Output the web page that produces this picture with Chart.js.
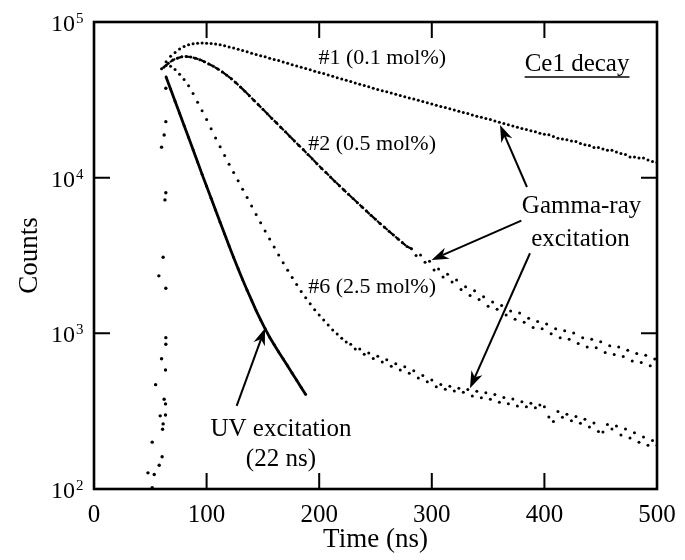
<!DOCTYPE html>
<html>
<head>
<meta charset="utf-8">
<script src="https://cdn.jsdelivr.net/npm/chart.js@4.4.1/dist/chart.umd.min.js"></script>
<style>
  html, body { margin: 0; padding: 0; background: #fff; }
  canvas { display: block; }
</style>
</head>
<body>
<canvas id="decay" width="685" height="560"></canvas>
<script>
// tick values
var xTicks = [0, 100, 200, 300, 400, 500];
var yTicks = [100, 1000, 10000, 100000];

// rising edge (shared by all curves)
var tRise = [47.9, 51.7, 51.7, 53.5, 54.7, 57.6, 57.9, 58.8, 60, 60, 60.5, 60.9, 61.4, 61.4, 62.3, 62.3, 63, 63.5, 63.5, 63.5, 63.8, 63.8, 63.8, 63.8, 63.8, 63.8];
var cRise = [127, 102, 200, 124, 468, 2340, 142, 295, 687, 15700, 161, 242, 262, 3080, 377, 18800, 7200, 299, 352, 582, 850, 938, 1950, 8000, 22900, 37500];

// UV excitation (22 ns)
var tUV = [64, 68, 72, 76, 80, 84, 88, 92, 96, 100, 104, 108, 112, 116, 120, 124, 128, 132, 136, 140, 144, 148, 152, 156, 160, 164, 168, 172, 176, 180, 184, 188];
var cUV = [44400, 37100, 31000, 25900, 21600, 18100, 15100, 12600, 10500, 8810, 7380, 6180, 5180, 4340, 3640, 3070, 2600, 2210, 1890, 1630, 1400, 1220, 1070, 944, 845, 760, 684, 617, 555, 499, 449, 404];

// #1 (0.1 mol%)
var t1 = [60, 64, 68, 72, 76, 80, 84, 88, 92, 96, 100, 104, 108, 112, 116, 120, 124, 128, 132, 136, 140, 144, 148, 152, 156, 160, 164, 168, 172, 176, 180, 184, 188, 192, 196, 200, 204, 208, 212, 216, 220, 224, 228, 232, 236, 240, 244, 248, 252, 256, 260, 264, 268, 272, 276, 280, 284, 288, 292, 296, 300, 304, 308, 312, 316, 320, 324, 328, 332, 336, 340, 344, 348, 352, 356, 360, 364, 368, 372, 376, 380, 384, 388, 392, 396, 400, 404, 408, 412, 416, 420, 424, 428, 432, 436, 440, 444, 448, 452, 456, 460, 464, 468, 472, 476, 480, 484, 488, 492, 496, 500];
var c1 = [50100, 55600, 60300, 63800, 67000, 69500, 71300, 72400, 73100, 73300, 73100, 72800, 72100, 71300, 70300, 69200, 68100, 66800, 65600, 64400, 63100, 61900, 60800, 59700, 58600, 57500, 56500, 55300, 54300, 53200, 52200, 51300, 50200, 49300, 48300, 47400, 46600, 45600, 44800, 43900, 43100, 42300, 41400, 40600, 39800, 39100, 38400, 37600, 36900, 36200, 35600, 35000, 34400, 33700, 33100, 32500, 32000, 31400, 30800, 30300, 29700, 29200, 28700, 28200, 27700, 27200, 26700, 26200, 25800, 25300, 24800, 24400, 24000, 23600, 23100, 22700, 22300, 21900, 21500, 21100, 20700, 20400, 20000, 19700, 19300, 19000, 18900, 18400, 17900, 17700, 17500, 17200, 17100, 16600, 16300, 16100, 15600, 15600, 15300, 15000, 15000, 14600, 14300, 14100, 13600, 13600, 13400, 13400, 13000, 12700, 12500];

// #2 (0.5 mol%)
var t2 = [62, 66, 70, 74, 78, 82, 86, 90, 94, 98, 102, 106, 110, 114, 118, 122, 126, 130, 134, 138, 142, 146, 150, 154, 158, 162, 166, 170, 174, 178, 182, 186, 190, 194, 198, 202, 206, 210, 214, 218, 222, 226, 230, 234, 238, 242, 246, 250, 254, 258, 262, 266, 270, 274, 278, 282, 286, 290, 294, 298, 302, 306, 310, 314, 318, 322, 326, 330, 334, 338, 342, 346, 350, 354, 358, 362, 366, 370, 374, 378, 382, 386, 390, 394, 398, 402, 406, 410, 414, 418, 422, 426, 430, 434, 438, 442, 446, 450, 454, 458, 462, 466, 470, 474, 478, 482, 486, 490, 494, 498];
var c2 = [51300, 54300, 56900, 58600, 59700, 60000, 59600, 58600, 57300, 55600, 53800, 51900, 49900, 47800, 45500, 43200, 40700, 38300, 35900, 33600, 31400, 29400, 27500, 25700, 24000, 22500, 21000, 19700, 18400, 17200, 16100, 15100, 14100, 13200, 12300, 11500, 10800, 10100, 9460, 8870, 8320, 7820, 7350, 6900, 6490, 6100, 5730, 5400, 5080, 4800, 4530, 4280, 4040, 3820, 3610, 3500, 3160, 3180, 2860, 2900, 2550, 2590, 2300, 2400, 2140, 2200, 1910, 1990, 1750, 1880, 1650, 1720, 1490, 1590, 1430, 1510, 1310, 1390, 1230, 1350, 1180, 1250, 1090, 1190, 1070, 1150, 993, 1070, 938, 1040, 916, 1005, 859, 938, 818, 916, 807, 883, 753, 832, 731, 817, 710, 780, 664, 743, 650, 724, 619, 684];

// #6 (2.5 mol%)
var t6 = [64, 68, 72, 76, 80, 84, 88, 92, 96, 100, 104, 108, 112, 116, 120, 124, 128, 132, 136, 140, 144, 148, 152, 156, 160, 164, 168, 172, 176, 180, 184, 188, 192, 196, 200, 204, 208, 212, 216, 220, 224, 228, 232, 236, 240, 244, 248, 252, 256, 260, 264, 268, 272, 276, 280, 284, 288, 292, 296, 300, 304, 308, 312, 316, 320, 324, 328, 332, 336, 340, 344, 348, 352, 356, 360, 364, 368, 372, 376, 380, 384, 388, 392, 396, 400, 404, 408, 412, 416, 420, 424, 428, 432, 436, 440, 444, 448, 452, 456, 460, 464, 468, 472, 476, 480, 484, 488, 492, 496, 500];
var c6 = [52500, 51900, 49500, 46200, 42700, 38900, 34700, 30500, 26900, 23600, 20600, 18000, 15800, 13900, 12200, 10800, 9550, 8430, 7450, 6580, 5810, 5130, 4540, 4030, 3580, 3180, 2840, 2540, 2280, 2060, 1860, 1690, 1550, 1420, 1310, 1220, 1130, 1050, 989, 931, 881, 851, 793, 794, 733, 748, 689, 713, 655, 676, 614, 637, 582, 611, 555, 574, 516, 536, 488, 501, 454, 470, 438, 457, 426, 444, 419, 435, 396, 424, 386, 415, 377, 404, 361, 387, 353, 378, 341, 364, 338, 356, 333, 347, 337, 290, 271, 315, 289, 302, 274, 292, 264, 281, 250, 265, 234, 232, 260, 243, 254, 222, 243, 213, 230, 200, 216, 191, 205, 191];

function pairs(ts, cs) {
    return ts.map(function(t, i) { return {x: t, y: cs[i]}; });
}

var ink = '#000';
var serif = "'Liberation Serif', 'DejaVu Serif', serif";

// labels and arrows, in data coordinates
var notes = [
    {text: '#1 (0.1 mol%)', x: 256, y: 58700, size: 22},
    {text: 'Ce1 decay', x: 429, y: 53700, size: 25, underline: true},
    {text: '#2 (0.5 mol%)', x: 247, y: 16400, size: 22},
    {text: '#6 (2.5 mol%)', x: 247, y: 1990, size: 22},
    {text: 'Gamma-ray', x: 433, y: 6490, size: 25},
    {text: 'excitation', x: 432, y: 4040, size: 25},
    {text: 'UV excitation', x: 166, y: 243, size: 25},
    {text: '(22 ns)', x: 166, y: 154, size: 25}
];
var arrows = [
    {from: [384.5, 8710], to: [360.6, 21800]},
    {from: [379.5, 5300], to: [299.8, 2960]},
    {from: [387.2, 3270], to: [333.9, 444]},
    {from: [126.7, 342], to: [151.9, 1080]}
];

var framePlugin = {
    id: 'frame',
    afterDatasetsDraw: function(chart) {
        var ctx = chart.ctx, a = chart.chartArea;
        var x = chart.scales.x, y = chart.scales.y;
        ctx.save();
        ctx.strokeStyle = ink;
        ctx.fillStyle = ink;

        // box + inward ticks
        ctx.lineWidth = 2.6;
        ctx.strokeRect(a.left, a.top, a.right - a.left, a.bottom - a.top);
        ctx.lineWidth = 2;
        ctx.beginPath();
        xTicks.slice(1, -1).forEach(function(v) {
            var px = x.getPixelForValue(v);
            ctx.moveTo(px, a.bottom); ctx.lineTo(px, a.bottom - 16);
            ctx.moveTo(px, a.top); ctx.lineTo(px, a.top + 16);
        });
        yTicks.slice(1, -1).forEach(function(v) {
            var py = y.getPixelForValue(v);
            ctx.moveTo(a.left, py); ctx.lineTo(a.left + 16, py);
            ctx.moveTo(a.right, py); ctx.lineTo(a.right - 16, py);
        });
        ctx.stroke();

        // y tick labels 10^n
        yTicks.forEach(function(v) {
            var py = y.getPixelForValue(v);
            ctx.font = '24px ' + serif;
            ctx.textAlign = 'right';
            ctx.textBaseline = 'alphabetic';
            ctx.fillText('10', a.left - 19, py + 9);
            ctx.font = '15px ' + serif;
            ctx.textAlign = 'left';
            ctx.fillText(String(Math.round(Math.log10(v))), a.left - 18, py + 1);
        });

        // arrows
        arrows.forEach(function(ar) {
            var x0 = x.getPixelForValue(ar.from[0]), y0 = y.getPixelForValue(ar.from[1]);
            var x1 = x.getPixelForValue(ar.to[0]), y1 = y.getPixelForValue(ar.to[1]);
            var dx = x1 - x0, dy = y1 - y0, len = Math.sqrt(dx * dx + dy * dy);
            var ux = dx / len, uy = dy / len;
            var hl = 17, hw = 6;
            ctx.lineWidth = 2;
            ctx.beginPath();
            ctx.moveTo(x0, y0);
            ctx.lineTo(x1 - ux * hl * 0.7, y1 - uy * hl * 0.7);
            ctx.stroke();
            ctx.beginPath();
            ctx.moveTo(x1, y1);
            ctx.lineTo(x1 - ux * hl - uy * hw, y1 - uy * hl + ux * hw);
            ctx.lineTo(x1 - ux * hl * 0.7, y1 - uy * hl * 0.7);
            ctx.lineTo(x1 - ux * hl + uy * hw, y1 - uy * hl - ux * hw);
            ctx.closePath();
            ctx.fill();
        });

        // text labels
        notes.forEach(function(n) {
            var px = x.getPixelForValue(n.x), py = y.getPixelForValue(n.y);
            ctx.font = n.size + 'px ' + serif;
            ctx.textAlign = 'center';
            ctx.textBaseline = 'middle';
            ctx.fillText(n.text, px, py);
            if (n.underline) {
                var w = ctx.measureText(n.text).width;
                ctx.lineWidth = 1.5;
                ctx.beginPath();
                ctx.moveTo(px - w / 2, py + 13);
                ctx.lineTo(px + w / 2, py + 13);
                ctx.stroke();
            }
        });
        ctx.restore();
    }
};

var dot = {showLine: false, pointRadius: 1.5, pointBorderWidth: 0, pointBackgroundColor: ink, borderColor: ink};

var chartDecay = new Chart(document.getElementById('decay'), {
    type: 'scatter',
    data: {
        datasets: [
            Object.assign({label: 'rise', data: pairs(tRise, cRise)}, dot, {pointRadius: 1.7}),
            Object.assign({label: 'UV', data: pairs(tUV, cUV)}, dot, {showLine: true, borderWidth: 2.8, pointRadius: 1.4}),
            Object.assign({label: '#1', data: pairs(t1, c1)}, dot),
            Object.assign({label: '#2', data: pairs(t2, c2)}, dot, {
                showLine: true, borderWidth: 2.2, borderDash: [6, 2], pointRadius: 1.5,
                segment: {
                    borderColor: function(c) { return c.p0.parsed.x >= 280 ? 'rgba(0,0,0,0)' : undefined; }
                }
            }),
            Object.assign({label: '#6', data: pairs(t6, c6)}, dot)
        ]
    },
    options: {
        responsive: false,
        animation: false,
        layout: {padding: {left: 0, right: 28, top: 22, bottom: 0}},
        plugins: {
            legend: {display: false},
            tooltip: {enabled: false}
        },
        scales: {
            x: {
                type: 'linear',
                min: 0,
                max: 500,
                grid: {display: false},
                border: {display: false},
                ticks: {stepSize: 100, color: ink, padding: 3, font: {family: serif, size: 25}},
                title: {display: true, text: 'Time (ns)', color: ink, font: {family: serif, size: 27}, padding: {top: 0, bottom: 4}},
                afterFit: function(s) { s.height = 71; }
            },
            y: {
                type: 'logarithmic',
                min: 100,
                max: 100000,
                grid: {display: false},
                border: {display: false},
                ticks: {display: false},
                title: {display: true, text: 'Counts', color: ink, font: {family: serif, size: 27}, padding: {top: 14, bottom: 0}},
                afterFit: function(s) { s.width = 94; }
            }
        }
    },
    plugins: [framePlugin]
});
</script>
</body>
</html>
